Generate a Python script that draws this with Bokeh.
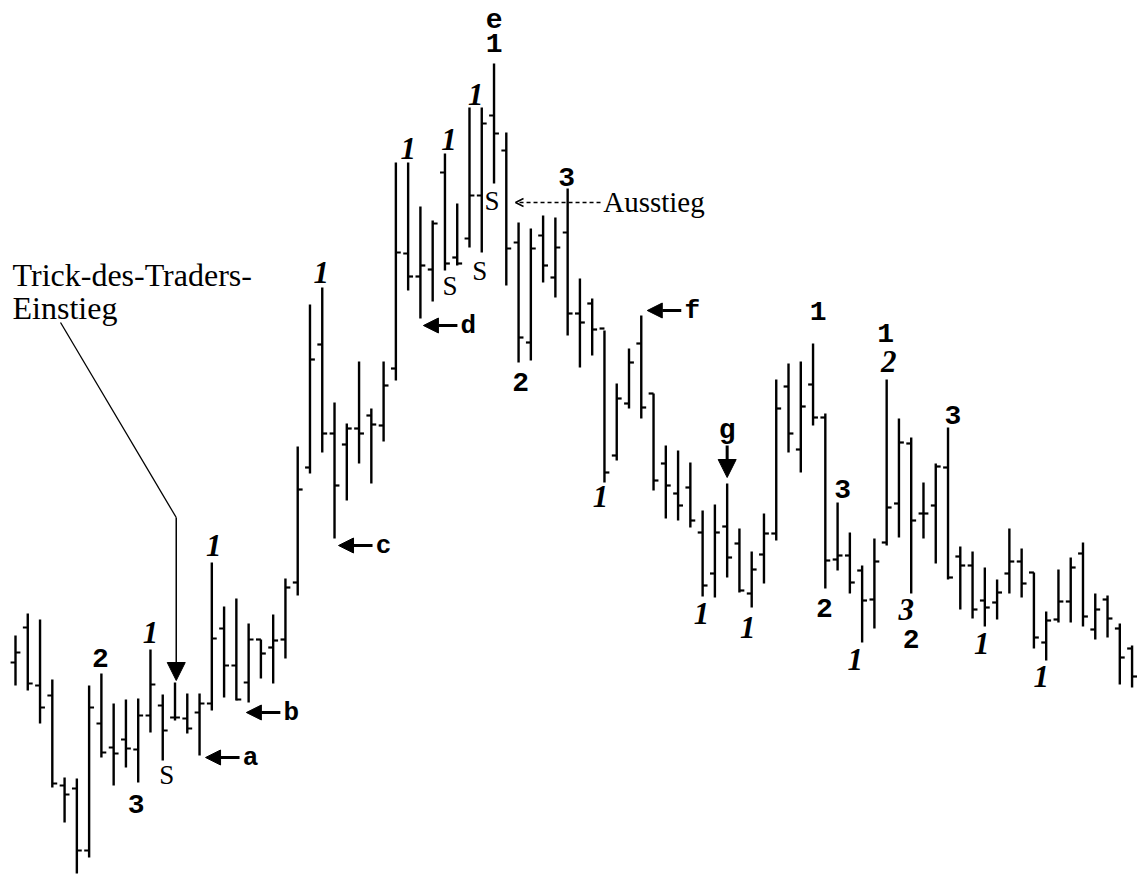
from bokeh.plotting import figure
from bokeh.models import Range1d, Arrow, NormalHead, OpenHead, ColumnDataSource
from bokeh.core.properties import value
from bokeh.embed import file_html
from bokeh.resources import INLINE

# ---- data: daily bars (price units) ----
bar_index = list(range(92))
high = [239, 261, 255, 195, 97, 96, 189, 201, 171, 175,
        176, 225, 180, 192, 181, 181, 312, 268, 276, 251,
        235, 260, 296, 428, 570, 587, 472, 451, 513, 466,
        513, 712, 712, 668, 654, 721, 671, 767, 767, 811,
        742, 652, 646, 659, 657, 686, 596, 576, 544, 491,
        526, 559, 481, 429, 424, 412, 364, 370, 391, 346,
        323, 361, 495, 511, 513, 531, 461, 372, 342, 309,
        336, 495, 456, 437, 392, 411, 447, 328, 323, 307,
        295, 346, 326, 302, 263, 305, 317, 332, 281, 279,
        251, 229]
low = [189, 184, 151, 87, 52, 1, 17, 117, 89, 107,
       92, 142, 114, 154, 141, 119, 164, 177, 174, 172,
       196, 191, 216, 279, 401, 422, 336, 374, 411, 391,
       433, 494, 584, 556, 573, 604, 609, 627, 622, 691,
       589, 512, 514, 592, 577, 539, 507, 519, 392, 414,
       466, 456, 384, 356, 354, 347, 278, 277, 297, 282,
       267, 291, 334, 422, 402, 449, 286, 304, 281, 232,
       246, 329, 337, 281, 336, 311, 295, 265, 256, 248,
       255, 281, 277, 226, 214, 252, 252, 248, 235, 237,
       190, 187]
open_ = [212, 247, 189, 179, 89, 86, 24, 151, 127, 135,
         125, 159, 169, 157, 156, 162, 171, 246, 209, 192,
         235, 227, 235, 292, 407, 530, 441, 430, 446, 459,
         449, 506, 621, 598, 605, 702, 617, 636, 679, 759,
         724, 632, 532, 639, 597, 642, 561, 571, 546, 419,
         471, 531, 481, 411, 381, 387, 342, 301, 348, 331,
         281, 320, 341, 488, 425, 490, 457, 315, 319, 304,
         275, 332, 371, 431, 361, 369, 407, 318, 309, 274,
         272, 301, 313, 302, 232, 255, 273, 321, 245, 275,
         246, 226]
close = [222, 191, 167, 91, 80, 24, 167, 122, 121, 126,
         159, 190, 144, 157, 146, 171, 236, 209, 175, 235,
         221, 234, 287, 385, 515, 441, 389, 446, 441, 450,
         489, 622, 598, 609, 651, 611, 611, 679, 751, 741,
         626, 537, 626, 609, 627, 561, 552, 545, 402, 476,
         512, 467, 394, 389, 369, 354, 289, 342, 317, 284,
         305, 341, 466, 441, 468, 457, 314, 319, 292, 274,
         313, 367, 432, 354, 361, 408, 297, 309, 265, 267,
         282, 313, 291, 237, 254, 273, 307, 258, 265, 256,
         217, 198]

# ---- annotations: (bar, side, gap px, x shift px, text) ----
mono_labels = [(7, "high", 16, -1, "2"), (10, "low", 21, -2, "3"),
               (39, "high", 21, 0, "1"), (39, "high", 45, 0, "e"),
               (41, "low", 19, 2, "2"), (45, "high", 12, -1, "3"),
               (65, "high", 33, 5, "1"), (66, "low", 19, -1, "2"),
               (67, "high", 14, 5, "3"), (71, "high", 47, -1, "1"),
               (73, "low", 45, 0, "2"), (76, "high", 13, 5, "3"),
               (58, "high", 53, 0, "g")]
ital_labels = [(11, "high", 17, 0, "1"), (16, "high", 17, 2, "1"),
               (25, "high", 15, -1, "1"), (32, "high", 14, 0, "1"),
               (35, "high", 14, 4, "1"), (38, "high", 13, -6, "1"),
               (48, "low", 14, -4, "1"), (56, "low", 17, -1, "1"),
               (60, "low", 20, -4, "1"), (69, "low", 17, -7, "1"),
               (71, "high", 18, 2, "2"), (73, "low", 16, -5, "3"),
               (79, "low", 17, -3, "1"), (84, "low", 16, -5, "1")]
serif_labels = [(12, "low", 14, 4, "S"), (35, "low", 15, 5, "S"),
                (38, "low", 18, -2, "S"), (39, "low", 17, -2, "S")]
# left-pointing arrows: (bar, side, dy price, tip shift px, letter)
left_arrows = [(15, "low", -2, 6, "a"), (18, "low", -12, 10, "b"),
               (26, "low", -7, 4, "c"), (33, "low", -7, 3, "d"),
               (51, "high", 5, 6, "f")]

PX = 12.27  # pixels per bar slot

p = figure(width=1140, height=874, output_backend="svg", toolbar_location=None,
           x_range=Range1d(-15 / PX, 1125 / PX), y_range=Range1d(0, 874),
           min_border=0, background_fill_color="white", border_fill_color="white")
p.outline_line_color = None
p.axis.visible = False
p.grid.visible = False

TICK = 0.4
p.segment(x0=bar_index, y0=low, x1=bar_index, y1=high, line_color="black", line_width=2.4)
p.segment(x0=[i - TICK for i in bar_index], y0=open_, x1=bar_index, y1=open_,
          line_color="black", line_width=2.2)
p.segment(x0=bar_index, y0=close, x1=[i + TICK for i in bar_index], y1=close,
          line_color="black", line_width=2.2)


def lab_src(items):
    xs, ys, ts, yo = [], [], [], []
    for bar, side, gap, dx, t in items:
        xs.append(bar + dx / PX)
        if side == "high":
            ys.append(high[bar]); yo.append(-gap)
        else:
            ys.append(low[bar]); yo.append(gap)
        ts.append(t)
    return ColumnDataSource(dict(x=xs, y=ys, text=ts, yoff=yo))


p.text(x="x", y="y", text="text", y_offset="yoff", source=lab_src(mono_labels),
       text_font=value("Liberation Mono"), text_font_style="bold",
       text_font_size="28px", text_align="center", text_baseline="middle", text_color="black")
p.text(x="x", y="y", text="text", y_offset="yoff", source=lab_src(ital_labels),
       text_font=value("Liberation Serif"), text_font_style="bold italic",
       text_font_size="31px", text_align="center", text_baseline="middle", text_color="black")
p.text(x="x", y="y", text="text", y_offset="yoff", source=lab_src(serif_labels),
       text_font=value("Liberation Serif"), text_font_style="normal",
       text_font_size="27px", text_align="center", text_baseline="middle", text_color="black")

# left arrows with letters
lx, ly, lt = [], [], []
for bar, side, dy, dx, letter in left_arrows:
    base = low[bar] if side == "low" else high[bar]
    y = base + dy
    tip = bar + dx / PX
    p.add_layout(Arrow(end=NormalHead(size=15, fill_color="black", line_color="black"),
                       x_start=tip + 34 / PX, y_start=y, x_end=tip, y_end=y,
                       line_color="black", line_width=3))
    lx.append(tip + 45 / PX); ly.append(y); lt.append(letter)
p.text(x=lx, y=ly, text=lt, text_font=value("Liberation Mono"), text_font_style="bold",
       text_font_size="26px", text_align="center", text_baseline="middle", text_color="black")

# down arrow "g"
g_bar = 58
p.add_layout(Arrow(end=NormalHead(size=18, fill_color="black", line_color="black"),
                   x_start=g_bar, y_start=high[g_bar] + 38, x_end=g_bar, y_end=high[g_bar] + 6,
                   line_color="black", line_width=3))

# Trick-des-Traders-Einstieg leader and arrow
t_bar = 13
p.line(x=[3.67, t_bar + 0.1], y=[552, 357], line_color="black", line_width=1.3)
p.add_layout(Arrow(end=NormalHead(size=18, fill_color="black", line_color="black"),
                   x_start=t_bar + 0.1, y_start=357, x_end=t_bar + 0.1, y_end=high[t_bar] + 2,
                   line_color="black", line_width=1.5))
p.text(x=[-0.24, -0.24], y=[600, 567], text=["Trick-des-Traders-", "Einstieg"],
       text_font=value("Liberation Serif"), text_font_size="32px",
       text_align="left", text_baseline="alphabetic", text_color="black")

# Ausstieg dashed arrow
p.add_layout(Arrow(end=OpenHead(size=8, line_color="black", line_width=1.5),
                   x_start=47.68, y_start=672, x_end=40.75, y_end=672,
                   line_color="black", line_width=1.5, line_dash="4 3"))
p.text(x=[47.9], y=[673], text=["Ausstieg"], text_font=value("Liberation Serif"),
       text_font_size="29px", text_align="left", text_baseline="alphabetic", text_color="black")

open("out.html", "w").write(file_html(p, INLINE))
